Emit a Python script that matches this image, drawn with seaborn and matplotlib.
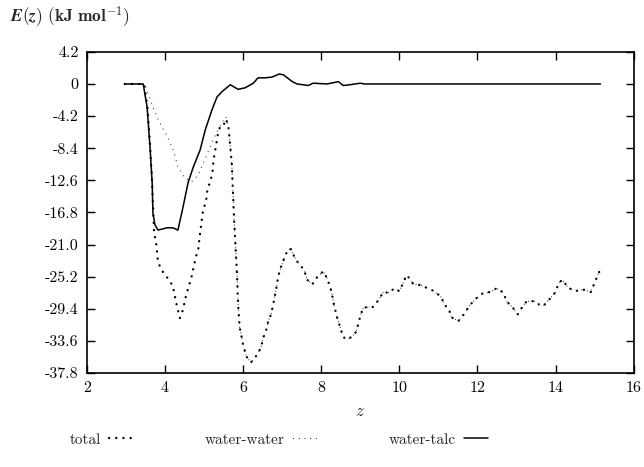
import matplotlib

matplotlib.use("Agg")
import matplotlib.pyplot as plt
import pandas as pd
import seaborn as sns

# values
total_z = [2.97, 3.46, 3.55, 3.62, 3.67, 3.70, 3.72, 3.77, 3.82, 3.92, 4.07, 4.20, 4.28,
           4.38, 4.46, 4.54, 4.67, 4.79, 4.85, 4.90, 4.97, 5.05, 5.08, 5.15, 5.21, 5.24,
           5.33, 5.36, 5.41, 5.49, 5.56, 5.62, 5.67, 5.71, 5.74, 5.77, 5.80, 5.84, 5.86,
           5.88, 5.91, 5.95, 6.00, 6.08, 6.20, 6.36, 6.46, 6.51, 6.59, 6.64, 6.72, 6.77,
           6.85, 6.90, 6.97, 7.05, 7.15, 7.23, 7.31, 7.41, 7.56, 7.64, 7.77, 7.90, 8.05,
           8.15, 8.26, 8.33, 8.41, 8.49, 8.56, 8.69, 8.87, 8.95, 9.00, 9.08, 9.31, 9.46,
           9.59, 9.74, 9.87, 10.00, 10.08, 10.18, 10.26, 10.36, 10.56, 10.72, 10.90,
           11.08, 11.15, 11.26, 11.33, 11.51, 11.67, 11.79, 11.95, 12.15, 12.33, 12.49,
           12.67, 12.74, 12.90, 13.03, 13.13, 13.26, 13.46, 13.62, 13.69, 13.85, 14.00,
           14.08, 14.18, 14.31, 14.51, 14.62, 14.72, 14.90, 15.00, 15.08, 15.15]
total_e = [0.0, 0.0, -3.0, -8.4, -13.0, -17.0, -19.5, -20.7, -23.3, -24.4, -25.4, -26.4, -28.5,
           -30.6, -29.5, -27.6, -25.4, -22.6, -21.6, -19.4, -16.6, -15.3, -14.0, -12.8, -11.8, -10.0,
           -7.3, -6.3, -5.6, -5.5, -4.6, -5.5, -8.2, -10.5, -14.3, -18.0, -20.8, -24.6, -27.5,
           -29.6, -31.8, -32.8, -34.1, -35.6, -36.4, -35.4, -34.4, -33.2, -32.2, -31.1, -30.0, -28.8,
           -26.7, -25.1, -23.9, -22.8, -21.6, -21.6, -22.6, -23.4, -24.3, -25.6, -26.2, -25.2, -24.5,
           -25.4, -27.1, -29.0, -30.6, -31.9, -33.1, -33.4, -32.6, -31.4, -30.3, -29.2, -29.2, -28.3,
           -27.2, -27.3, -26.7, -27.1, -26.2, -25.0, -25.4, -26.2, -26.3, -26.7, -27.1,
           -27.9, -28.9, -29.3, -30.5, -31.0, -30.0, -29.0, -28.1, -27.3, -27.2, -26.7,
           -27.3, -28.4, -29.2, -30.1, -29.3, -28.4, -28.4, -29.0, -29.0, -28.1, -27.2,
           -26.0, -25.6, -26.6, -27.1, -26.9, -26.9, -27.2, -26.0, -25.0, -24.2]

ww_z_early = [2.97, 3.46, 3.50, 3.72, 3.82, 3.92, 4.05, 4.23, 4.33, 4.49, 4.68, 4.85, 5.05,
              5.23, 5.33, 5.46, 5.56]
ww_e_early = [0.0, 0.0, -0.3, -3.4, -4.6, -5.6, -6.8, -8.9, -10.9, -12.2, -12.8, -11.9, -9.5,
              -7.3, -6.3, -5.0, -4.3]

wt_z = [2.97, 3.44, 3.54, 3.62, 3.67, 3.69, 3.74, 3.82, 4.05, 4.20, 4.33, 4.46, 4.59, 4.72,
        4.90, 5.03, 5.20, 5.33, 5.46, 5.67, 5.87, 6.05, 6.26, 6.38, 6.56, 6.74, 6.92, 7.03,
        7.26, 7.38, 7.67, 7.79, 8.15, 8.44, 8.56, 8.74, 9.00, 9.10, 15.15]
wt_e = [0.0, 0.0, -3.0, -8.6, -12.9, -16.9, -18.4, -19.1, -18.8, -18.8, -19.1, -16.1, -12.9, -10.9,
        -8.6, -6.0, -3.4, -1.7, -1.0, -0.1, -0.7, -0.5, 0.1, 0.8, 0.8, 0.9, 1.3, 1.2,
        0.3, 0.0, -0.2, 0.1, 0.0, 0.3, -0.2, -0.1, 0.1, 0.0, 0.0]

y_ticks = [4.2, 0, -4.2, -8.4, -12.6, -16.8, -21.0, -25.2, -29.4, -33.6, -37.8]
y_tick_labels = ["4.2", "0", "-4.2", "-8.4", "-12.6", "-16.8", "-21.0", "-25.2", "-29.4",
                 "-33.6", "-37.8"]
x_ticks = [2, 4, 6, 8, 10, 12, 14, 16]

sns.set_theme(style="ticks")
plt.rcParams["font.family"] = ["cmr10", "DejaVu Serif"]
plt.rcParams["mathtext.fontset"] = "cm"
plt.rcParams["axes.unicode_minus"] = False

total = pd.DataFrame({"z": total_z, "E": total_e})
tail = total[total["z"] >= 5.62]
water_water = pd.DataFrame({"z": ww_z_early + list(tail["z"]),
                            "E": ww_e_early + list(tail["E"])})
water_talc = pd.DataFrame({"z": wt_z, "E": wt_e})

fig = plt.figure(figsize=(6.44, 4.67), dpi=100)
ax = fig.add_axes([0.135, 0.201, 0.849, 0.688])

sns.lineplot(data=total, x="z", y="E", ax=ax, estimator=None, sort=False, color="black",
             linewidth=1.7, linestyle=(0, (0.05, 3.0)), dash_capstyle="round", label="total")
sns.lineplot(data=water_water, x="z", y="E", ax=ax, estimator=None, sort=False, color="#333333",
             linewidth=0.9, linestyle=(0, (0.05, 4.5)), dash_capstyle="round", label="water-water")
sns.lineplot(data=water_talc, x="z", y="E", ax=ax, estimator=None, sort=False, color="black",
             linewidth=1.1, label="water-talc")

ax.set_xlim(2, 16)
ax.set_ylim(-37.8, 4.2)
ax.set_xticks(x_ticks)
ax.set_xticklabels([str(t) for t in x_ticks])
ax.set_yticks(y_ticks)
ax.set_yticklabels(y_tick_labels)
ax.tick_params(direction="in", length=6, width=1, top=True, right=True, labelsize=11.5,
               pad=6, colors="black")
for side in ax.spines.values():
    side.set_linewidth(1.2)
    side.set_color("black")

ax.set_xlabel("$z$", fontsize=12, labelpad=6)
ax.set_ylabel("")
fig.text(0.015, 0.962, r"$\mathbfit{E}\mathbf{(}\mathbfit{z}\mathbf{)}\ \mathbf{(kJ\ mol^{-1})}$",
         fontsize=12.5, ha="left", va="center")

handles, labels = ax.get_legend_handles_labels()
ax.get_legend().remove()
fig.legend(handles, labels, loc="center", bbox_to_anchor=(0.433, 0.058), ncol=3,
           frameon=False, markerfirst=False, handlelength=1.6, handletextpad=0.5,
           columnspacing=4.7, fontsize=11)

fig.savefig("out.png", dpi=100)
plt.close(fig)
